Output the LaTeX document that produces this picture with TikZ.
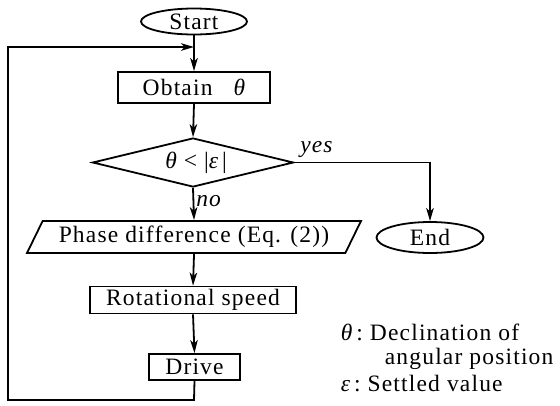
\documentclass[tikz,border=0pt]{standalone}
\usepackage{fontspec}
\setmainfont{Liberation Serif}[LetterSpace=5]
\usetikzlibrary{shapes.geometric,arrows.meta}
\begin{document}
\begin{tikzpicture}[x=1pt,y=-1pt,
  font=\fontsize{23.5}{25}\selectfont,
  line width=1.8pt,
  flow/.style={-{Stealth[length=13pt,width=7.5pt,inset=3.5pt]}},
  terminal/.style={draw,ellipse,inner sep=0pt},
  procbox/.style={draw,rectangle,inner sep=0pt},
  decide/.style={draw,diamond,shape aspect=4,inner sep=0pt,minimum width=201pt,minimum height=49pt},
  iobox/.style={draw,trapezium,trapezium left angle=54,trapezium right angle=126,
    trapezium stretches body,inner sep=0pt,minimum width=334pt,minimum height=32pt},
  lbl/.style={font=\fontsize{23.5}{25}\selectfont\itshape},
  legend/.style={anchor=base west,inner sep=0pt}]
\useasboundingbox (0,0) rectangle (560,405);

% flow chart nodes
\node[terminal,minimum width=106pt,minimum height=26pt] (start) at (194,21.5) {Start};
\node[procbox,minimum width=152pt,minimum height=31pt] (obtain) at (194,87.5) {Obtain\hspace{0.9em}{\itshape θ}};
\node[decide] (cond) at (193,162.5) {\hspace{6pt}{\itshape θ} < |{\itshape ε}\,|};
\node[iobox] (phase) at (194,237) {Phase difference (Eq. (2))};
\node[procbox,minimum width=206pt,minimum height=27pt] (rot) at (193,300) {Rotational speed};
\node[procbox,minimum width=91pt,minimum height=26pt] (drive) at (194.5,367) {Drive};
\node[terminal,minimum width=107pt,minimum height=31pt] (endn) at (430,237.5) {End};

% helper points of the feedback loop and the yes branch
\coordinate (join) at (194,47);
\coordinate (lowR) at (194,400);
\coordinate (lowL) at (8,400);
\coordinate (upL) at (8,47);
\coordinate (yesC) at (430,162.5);

% connectors
\draw[flow] (start.south) -- (obtain.north);
\draw[flow] (obtain.south) -- (cond.north);
\draw[flow] (cond.south) -- node[lbl,right,inner sep=2pt,pos=0.4] {no} (phase.north);
\draw[flow] (phase.south) -- (rot.north);
\draw[flow] (rot.south) -- (drive.north);
\draw[flow] (cond.east) -- (yesC) -- (endn.north);
\node[lbl,anchor=south west,inner sep=1pt] (yes) at ([xshift=4pt,yshift=3pt]cond.east) {yes};
\draw[flow] (drive.south) -- (lowR) -- (lowL) -- (upL) -- (join);

% legend
\node[legend] (leg1) at (340,340) {{\itshape θ}\,:\ Declination of};
\node[legend] (leg2) at (384,364) {angular position};
\node[legend] (leg3) at (340,391) {{\itshape ε}\,:\ Settled value};
\end{tikzpicture}
\end{document}
